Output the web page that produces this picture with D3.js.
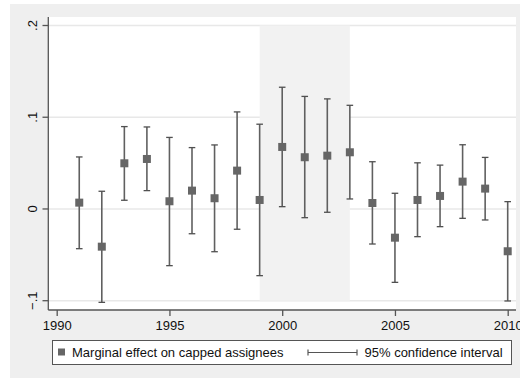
<!DOCTYPE html>
<html>
<head>
<meta charset="utf-8">
<script src="https://cdn.jsdelivr.net/npm/d3@7"></script>
<style>
  body { margin: 0; background: #fff; }
  svg { display: block; font-family: "Liberation Sans", Arial, sans-serif; }
</style>
</head>
<body>
<svg id="chart" width="520" height="380"></svg>
<script>
// data
const years = [1991, 1992, 1993, 1994, 1995, 1996, 1997, 1998, 1999, 2000,
               2001, 2002, 2003, 2004, 2005, 2006, 2007, 2008, 2009, 2010];
const effect = [0.0069, -0.0411, 0.0498, 0.0545, 0.0084, 0.0200, 0.0117, 0.0418, 0.0098, 0.0676,
                0.0564, 0.0581, 0.0618, 0.0065, -0.0313, 0.0098, 0.0142, 0.0298, 0.0222, -0.0461];
const ciHigh = [0.0567, 0.0193, 0.0898, 0.0894, 0.0780, 0.0669, 0.0698, 0.1058, 0.0924, 0.1327,
                0.1227, 0.1200, 0.1130, 0.0515, 0.0171, 0.0503, 0.0478, 0.0700, 0.0562, 0.0080];
const ciLow = [-0.0433, -0.1018, 0.0095, 0.0200, -0.0618, -0.0270, -0.0466, -0.0221, -0.0727, 0.0025,
               -0.0095, -0.0036, 0.0109, -0.0382, -0.0800, -0.0302, -0.0193, -0.0102, -0.0120, -0.1003];
const xTicks = [1990, 1995, 2000, 2005, 2010];
const yTicks = [-0.1, 0, 0.1, 0.2];
const shadeRange = [1999, 2003];
const legendLabels = ['Marginal effect on capped assignees', '95% confidence interval'];

const rows = years.map((y, i) => ({ year: y, est: effect[i], hi: ciHigh[i], lo: ciLow[i] }));

const plot = { left: 48.3, right: 516, top: 17, bottom: 310 };

const svg = d3.select('#chart');

// outer graph region
svg.append('rect')
    .attr('x', 10).attr('y', 4)
    .attr('width', 510).attr('height', 374)
    .attr('fill', '#efefef');

svg.append('rect')
    .attr('x', plot.left).attr('y', plot.top)
    .attr('width', plot.right - plot.left).attr('height', plot.bottom - plot.top)
    .attr('fill', '#ffffff');

const xScale = d3.scaleLinear().domain([1990, 2010]).range([56.7, 507.7]);
const yScale = d3.scaleLinear().domain([-0.1, 0.2]).range([300.7, 25.5]);

// grid lines
svg.append('g')
    .selectAll('line')
    .data(yTicks)
    .enter()
    .append('line')
    .attr('x1', plot.left)
    .attr('x2', plot.right)
    .attr('y1', d => yScale(d))
    .attr('y2', d => yScale(d))
    .attr('stroke', '#e8e8e8')
    .attr('stroke-width', 1.5);

// shaded years
svg.append('rect')
    .attr('x', xScale(shadeRange[0]))
    .attr('y', yScale(0.2))
    .attr('width', xScale(shadeRange[1]) - xScale(shadeRange[0]))
    .attr('height', yScale(-0.1) - yScale(0.2))
    .attr('fill', '#f2f2f2');

// axes lines
svg.append('line')
    .attr('x1', plot.left).attr('x2', plot.left)
    .attr('y1', plot.top).attr('y2', plot.bottom)
    .attr('stroke', '#555').attr('stroke-width', 1.3);
svg.append('line')
    .attr('x1', plot.left).attr('x2', plot.right)
    .attr('y1', plot.bottom).attr('y2', plot.bottom)
    .attr('stroke', '#555').attr('stroke-width', 1.3);

const xAxis = d3.axisBottom(xScale)
    .tickValues(xTicks)
    .tickFormat(d3.format('d'))
    .tickSize(6)
    .tickSizeOuter(0)
    .tickPadding(5);

const gX = svg.append('g')
    .attr('transform', 'translate(0,' + plot.bottom + ')')
    .call(xAxis);
gX.select('.domain').remove();
gX.selectAll('.tick line').attr('stroke', '#555').attr('stroke-width', 1.3);
gX.selectAll('.tick text')
    .attr('fill', '#111')
    .style('font-size', '13px')
    .style('font-family', '"Liberation Sans", Arial, sans-serif');

const yFmt = d => (d === 0 ? '0' : d3.format('.1f')(d).replace('0.', '.'));

const gY = svg.append('g');
gY.selectAll('line')
    .data(yTicks)
    .enter()
    .append('line')
    .attr('x1', 42.5).attr('x2', plot.left)
    .attr('y1', d => yScale(d)).attr('y2', d => yScale(d))
    .attr('stroke', '#555').attr('stroke-width', 1.3);
gY.selectAll('text')
    .data(yTicks)
    .enter()
    .append('text')
    .attr('transform', d => 'translate(37,' + yScale(d) + ') rotate(-90)')
    .attr('text-anchor', 'middle')
    .attr('fill', '#111')
    .style('font-size', '13px')
    .text(yFmt);

// confidence intervals
const bars = svg.append('g').attr('class', 'ci');
bars.selectAll('line.stem')
    .data(rows)
    .enter()
    .append('line')
    .attr('class', 'stem')
    .attr('x1', d => xScale(d.year)).attr('x2', d => xScale(d.year))
    .attr('y1', d => yScale(d.hi)).attr('y2', d => yScale(d.lo))
    .attr('stroke', '#606060').attr('stroke-width', 1.6);

const capW = 3.3;
['hi', 'lo'].forEach(k => {
    bars.selectAll('line.cap-' + k)
        .data(rows)
        .enter()
        .append('line')
        .attr('class', 'cap-' + k)
        .attr('x1', d => xScale(d.year) - capW).attr('x2', d => xScale(d.year) + capW)
        .attr('y1', d => yScale(d[k])).attr('y2', d => yScale(d[k]))
        .attr('stroke', '#505050').attr('stroke-width', 1.3);
});

// point estimates
const ms = 8;
svg.append('g')
    .selectAll('rect')
    .data(rows)
    .enter()
    .append('rect')
    .attr('x', d => xScale(d.year) - ms / 2)
    .attr('y', d => yScale(d.est) - ms / 2)
    .attr('width', ms).attr('height', ms)
    .attr('fill', '#666666');

// legend
const lg = svg.append('g');
lg.append('rect')
    .attr('x', 52.5).attr('y', 340.5)
    .attr('width', 459).attr('height', 24)
    .attr('fill', '#fff')
    .attr('stroke', '#555').attr('stroke-width', 1);
lg.append('rect')
    .attr('x', 58).attr('y', 348.5)
    .attr('width', 7).attr('height', 7)
    .attr('fill', '#666666');
lg.append('text')
    .attr('x', 72).attr('y', 357)
    .attr('fill', '#111')
    .style('font-size', '13px')
    .text(legendLabels[0]);
lg.append('line')
    .attr('x1', 308).attr('x2', 357).attr('y1', 352.5).attr('y2', 352.5)
    .attr('stroke', '#555').attr('stroke-width', 1.2);
[308, 357].forEach(x => {
    lg.append('line')
        .attr('x1', x).attr('x2', x).attr('y1', 349.5).attr('y2', 355.5)
        .attr('stroke', '#555').attr('stroke-width', 1.2);
});
lg.append('text')
    .attr('x', 364.5).attr('y', 357)
    .attr('fill', '#111')
    .style('font-size', '13px')
    .text(legendLabels[1]);
</script>
</body>
</html>
